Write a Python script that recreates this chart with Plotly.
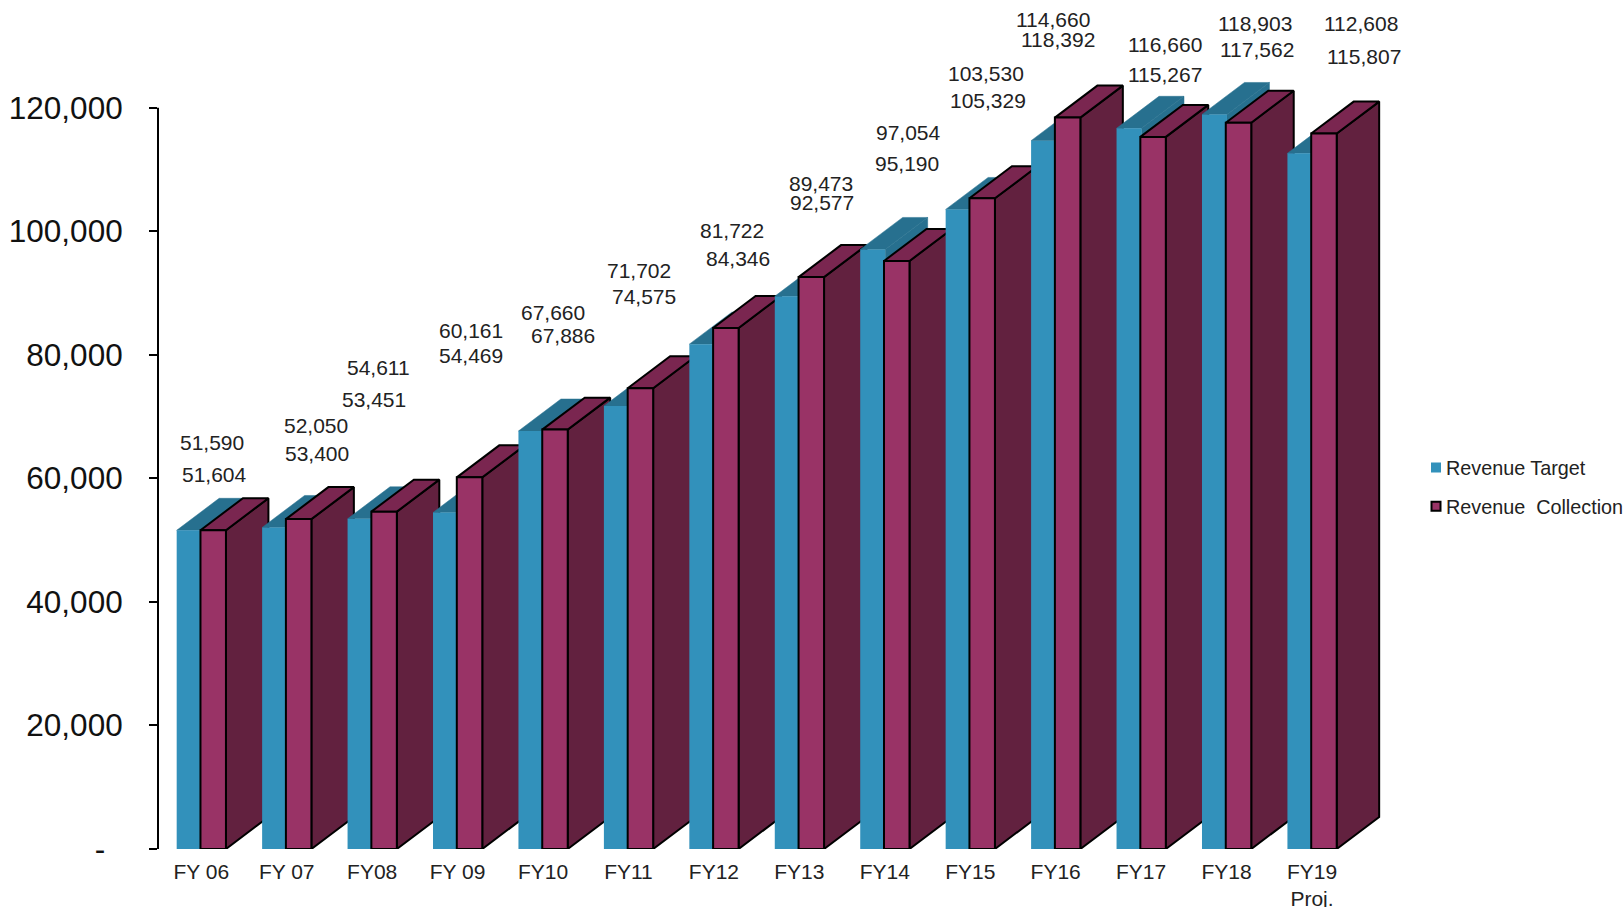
import plotly.graph_objects as go

categories = ["FY 06", "FY 07", "FY08", "FY 09", "FY10", "FY11", "FY12", "FY13", "FY14", "FY15",
              "FY16", "FY17", "FY18", "FY19<br>Proj."]
revenue_target = [51590, 52050, 53451, 54469, 67660, 71702, 81722, 89473, 97054, 103530,
                  114660, 116660, 118903, 112608]
revenue_collection = [51604, 53400, 54611, 60161, 67886, 74575, 84346, 92577, 95190, 105329,
                      118392, 115267, 117562, 115807]
y_ticks = [0, 20000, 40000, 60000, 80000, 100000, 120000]

# Hand-placed data label centres, in pixels of the page
target_label_px = [(212, 442), (316, 425), (374, 399), (471, 355), (553, 312), (639, 270), (732, 230),
                   (821, 183), (909, 132), (987, 73), (1054, 19), (1166, 44), (1256, 23), (1362, 23)]
collection_label_px = [(215, 474), (317, 453), (379, 367), (471, 330), (563, 335), (644, 296), (738, 258),
                       (822, 202), (908, 163), (989, 100), (1059, 39), (1166, 74), (1258, 49), (1365, 56)]

W, H = 1624, 907
L, R, B = 158, W, 849
PX_PER_UNIT = 123.6 / 20000
YTOP = 135000
T = B - YTOP * PX_PER_UNIT
STEP = 85.5
X0 = (L - 201.3) / STEP
X1 = (R - 201.3) / STEP
DX = 42.5 / STEP
DY = 32 / PX_PER_UNIT

T_LEFT, T_W = -24.6 / STEP, 25 / STEP
C_LEFT, C_W = -0.8 / STEP, 25.5 / STEP

COLORS = {
    "t": ("#3291bb", "#27708f", "#27708f"),
    "c": ("#993366", "#7a2650", "#62213f"),
}


def poly(xs, ys, fill, z, line=None):
    return go.Scatter(
        x=xs + xs[:1], y=ys + ys[:1], mode="lines", fill="toself", fillcolor=fill,
        line=dict(color=line or fill, width=2 if line else 0.5),
        showlegend=False, hoverinfo="skip", zorder=z,
    )


fig = go.Figure()
for i in range(len(categories)):
    for k, (key, vals, left, w, name) in enumerate([
        ("t", revenue_target, T_LEFT, T_W, "Revenue Target"),
        ("c", revenue_collection, C_LEFT, C_W, "Revenue  Collection"),
    ]):
        v = vals[i]
        x0 = i + left
        x1 = x0 + w
        front, top, side = COLORS[key]
        edge = "#000000" if key == "c" else None
        z = i * 10 + k * 3
        fig.add_trace(poly([x1, x1 + DX, x1 + DX, x1], [0, DY, v + DY, v], side, z, edge))
        fig.add_trace(poly([x0, x1, x1 + DX, x0 + DX], [v, v, v + DY, v + DY], top, z + 1, edge))
        fig.add_trace(go.Bar(
            x=[i], y=[v], width=w, offset=left, name=name, showlegend=False, zorder=z + 2,
            marker=dict(color=front, line=dict(color=edge or front, width=2 if edge else 0)),
            hovertemplate=name + ": %{y:,}<extra></extra>",
        ))

# Legend entries
fig.add_trace(go.Scatter(x=[None], y=[None], mode="markers", name="Revenue Target", legendgroup="a",
                         marker=dict(symbol="square", size=10, color="#3291bb", line=dict(width=0))))
fig.add_trace(go.Scatter(x=[None], y=[None], mode="markers", name="Revenue\u00a0 Collection", legendgroup="b",
                         marker=dict(symbol="square", size=9, color="#993366", line=dict(color="#000000", width=2))))

labels = []
for vals, pts in ((revenue_target, target_label_px), (revenue_collection, collection_label_px)):
    for v, (px, py) in zip(vals, pts):
        labels.append(dict(
            text=f"{v:,}", xref="paper", yref="paper",
            x=(px - L) / (R - L), y=(B - py) / (B - T),
            xanchor="center", yanchor="middle", showarrow=False,
            font=dict(size=21, color="#222222"),
        ))

fig.update_layout(
    width=W, height=H, autosize=False,
    margin=dict(l=L, r=W - R, t=T, b=H - B, pad=0),
    paper_bgcolor="#ffffff", plot_bgcolor="#ffffff",
    font=dict(family="Liberation Sans", color="#222222"),
    barmode="overlay",
    annotations=labels,
    showlegend=True,
    legend=dict(
        x=(1402 - L) / (R - L), y=(B - 448) / (B - T), xanchor="left", yanchor="top",
        font=dict(size=19.8, color="#222222"), tracegroupgap=10, itemwidth=30,
        bgcolor="rgba(0,0,0,0)",
    ),
    shapes=[dict(type="line", xref="paper", yref="y", x0=0, x1=0, y0=0, y1=y_ticks[-1],
                 line=dict(color="#000000", width=2), layer="above")],
    xaxis=dict(
        range=[X0, X1], tickmode="array", tickvals=list(range(len(categories))), ticktext=categories,
        showgrid=False, zeroline=False, showline=False, ticks="", tickangle=0,
        tickfont=dict(size=21, color="#222222"), ticklabelstandoff=8, automargin=False,
    ),
    yaxis=dict(
        range=[0, YTOP], tickmode="array", tickvals=y_ticks,
        ticktext=["-\u00a0\u00a0"] + [f"{v:,}" for v in y_ticks[1:]],
        showgrid=False, zeroline=False, showline=False,
        ticks="outside", ticklen=8, tickwidth=2, tickcolor="#000000",
        tickfont=dict(size=31.5, color="#111111"), ticklabelstandoff=20, automargin=False,
    ),
)

post = """
document.body.style.margin='0';document.body.style.overflow='hidden';
function nudge(){
document.querySelectorAll('.legendsymbols').forEach(function(e){e.setAttribute('transform','translate(15,0)');});
document.querySelectorAll('.legendtext').forEach(function(e){e.setAttribute('x','45');});
}
nudge();setTimeout(nudge,50);setTimeout(nudge,300);
"""
fig.write_html("out.html", post_script=post, config={"displayModeBar": False})
